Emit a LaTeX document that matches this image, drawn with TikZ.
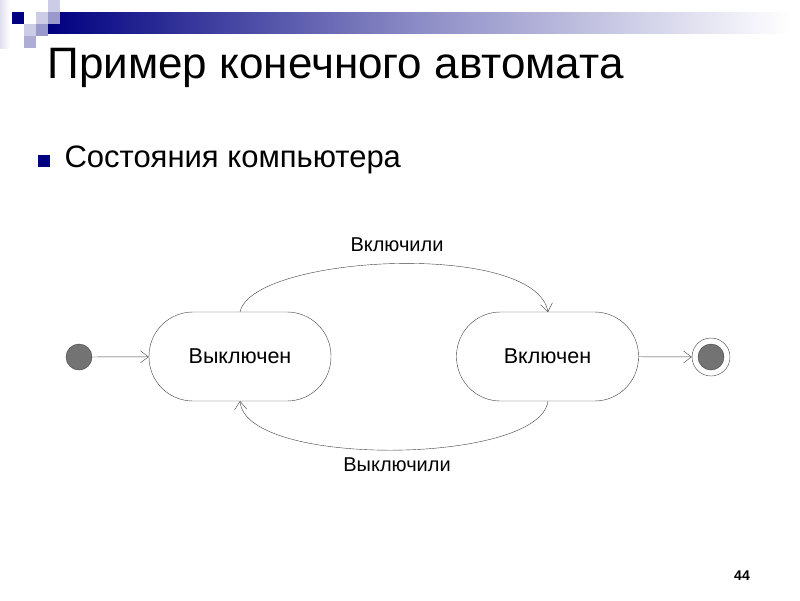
\documentclass[tikz,border=0pt]{standalone}
\usepackage{fontspec}
\setmainfont{Liberation Sans}
\usetikzlibrary{arrows.meta}
\definecolor{navy}{RGB}{0,0,128}
\definecolor{lb1}{RGB}{204,204,230}
\definecolor{lb2}{RGB}{153,153,204}
\begin{document}
\begin{tikzpicture}[x=1pt,y=-1pt,
  st/.style={draw=black!75,rounded corners=44pt,minimum width=182pt,minimum height=89pt,font=\fontsize{21.5}{25}\selectfont},
  ar/.style={draw=black!75,-{Straight Barb[length=8pt,width=12pt]}},
  lbl/.style={font=\fontsize{20}{24}\selectfont}]
\useasboundingbox (0,0) rectangle (800,600);
\fill[white] (0,0) rectangle (800,600);
% decoration
\shade[left color=lb1!60,right color=white] (0,0) rectangle (10,48);
\shade[left color=navy,right color=white,middle color=navy!45] (48,12) rectangle (790,33);
\fill[navy] (12,12) rectangle (24,24);
\fill[lb1] (48,0) rectangle (60,12);
\fill[lb1] (36,12) rectangle (48,24);
\fill[lb2] (48,12) rectangle (60,24);
\fill[lb1] (24,24) rectangle (36,36);
\fill[lb2] (36,24) rectangle (48,36);
\fill[lb2!80] (24,36) rectangle (36,48);
% title
\node[anchor=west,font=\fontsize{44}{48}\selectfont] (title) at (44,68) {Пример конечного автомата};
\fill[navy] (38,155) rectangle (50,167);
\node[anchor=west,font=\fontsize{31}{34}\selectfont] (bul) at (61,160) {Состояния компьютера};
% diagram
\node[st] (off) at (240,356.5) {Выключен};
\node[st] (on) at (547.5,356.5) {Включен};
\node[circle,draw=black!75,fill=black!55,minimum size=26pt,inner sep=0] (init) at (79,357) {};
\node[circle,draw=black!75,minimum size=38pt,inner sep=0] (fin) at (711,357) {};
\node[circle,draw=black!75,fill=black!55,minimum size=26pt,inner sep=0] at (fin) {};
\draw[ar] (init) -- (off);
\draw[ar] (on) -- (fin);
\coordinate (a1) at (240,312);
\coordinate (a2) at (548,312);
\coordinate (b1) at (548,401);
\coordinate (b2) at (240,401);
\draw[ar] (a1) .. controls (252,255) and (535,240) .. (a2);
\draw[ar] (b1) .. controls (540,465) and (245,468) .. (b2);
\node[lbl] (l1) at (397,245) {Включили};
\node[lbl] (l2) at (397,465) {Выключили};
\node[font=\bfseries\fontsize{14}{16}\selectfont] (pg) at (742,576) {44};
\end{tikzpicture}
\end{document}
